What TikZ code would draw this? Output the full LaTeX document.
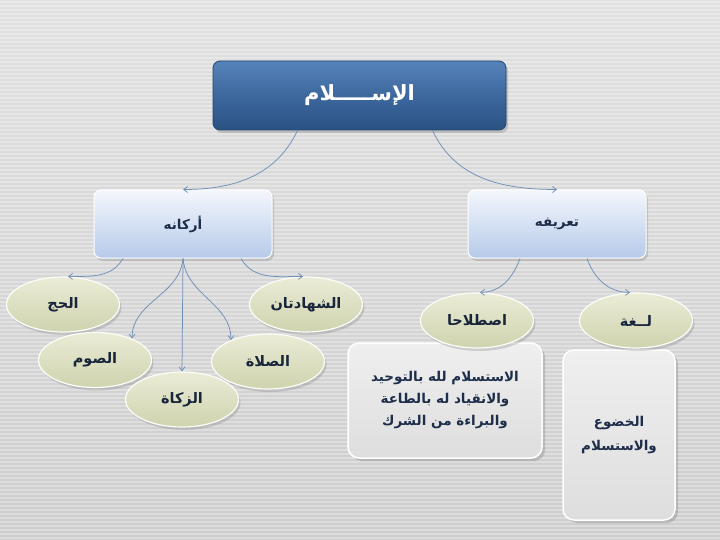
\documentclass[tikz,border=0pt]{standalone}
\usepackage{fontspec}
\newfontfamily\arabicfont[Script=Arabic]{DejaVu Sans}
\TeXXeTstate=1
\usetikzlibrary{shapes.geometric,shadows,arrows.meta}
\definecolor{bgtop}{HTML}{E0E0E0}
\definecolor{bgbot}{HTML}{CDCDCD}
\definecolor{ttop}{HTML}{5683BA}
\definecolor{tmid}{HTML}{3D689E}
\definecolor{tbot}{HTML}{2A5183}
\definecolor{tedge}{HTML}{22446E}
\definecolor{btop}{HTML}{F4F7FC}
\definecolor{bbot}{HTML}{B6CAEA}
\definecolor{etop}{HTML}{EAECD6}
\definecolor{ebot}{HTML}{CFD3AE}
\definecolor{gtop}{HTML}{EFEFEF}
\definecolor{gbot}{HTML}{DEDEDE}
\definecolor{txt}{HTML}{1E2E4A}
\definecolor{link}{HTML}{7090B8}
\begin{document}
\begin{tikzpicture}[x=1pt,y=-1pt,
  ar/.style={font=\arabicfont\bfseries},
  titlebox/.style={rounded corners=7pt, draw=tedge, line width=0.8pt,
    top color=ttop, bottom color=tbot, middle color=tmid,
    minimum width=293pt, minimum height=69pt, text=white,
    font=\arabicfont\bfseries\fontsize{21}{25}\selectfont,
    drop shadow={opacity=0.35, shadow xshift=2pt, shadow yshift=-3pt}},
  midbox/.style={rounded corners=7pt, draw=white, line width=1pt,
    top color=btop, bottom color=bbot,
    minimum width=178pt, minimum height=68pt, text=txt,
    font=\arabicfont\bfseries\fontsize{13.5}{16}\selectfont,
    drop shadow={opacity=0.3, shadow xshift=2pt, shadow yshift=-3pt}},
  oval/.style={ellipse, draw=white!85!etop, line width=1.2pt,
    top color=etop, bottom color=ebot, inner sep=0pt,
    minimum width=113pt, minimum height=55pt, text=txt!80!black,
    font=\arabicfont\bfseries\fontsize{14.5}{17}\selectfont,
    drop shadow={opacity=0.3, shadow xshift=2pt, shadow yshift=-3pt}},
  textbox/.style={rounded corners=11pt, draw=white, line width=1.5pt,
    top color=gtop, bottom color=gbot, text=txt, align=center,
    drop shadow={opacity=0.35, shadow xshift=3pt, shadow yshift=-3pt}},
  link/.style={draw=link, line width=0.75pt, -{Straight Barb[length=4pt,width=6pt]}}
]
\useasboundingbox (0,0) rectangle (720,540);
\shade[top color=bgtop, bottom color=bgbot] (0,0) rectangle (720,540);
\foreach \yy in {2,6,...,540} \draw[white, opacity=0.3, line width=1.3pt] (0,\yy) -- (720,\yy);

\node[titlebox] (top) at (359.5,95.5) {\beginR الإســـــلام\endR};

\node[midbox] (rukn) at (183,224) {\beginR أركانه\endR};
\node[midbox] (tarif) at (557,224) {\beginR تعريفه\endR};

\node[oval] (hajj) at (63,304.5) {\beginR الحج\endR};
\node[oval] (shah) at (306,304.5) {\beginR الشهادتان\endR};
\node[oval] (sawm) at (95,360) {\beginR الصوم\endR};
\node[oval] (salat) at (268,361.5) {\beginR الصلاة\endR};
\node[oval] (zakat) at (182,399.5) {\beginR الزكاة\endR};

\node[textbox, minimum width=194pt, minimum height=115pt,
  font=\arabicfont\bfseries\fontsize{13.5}{22}\selectfont] (def) at (445,400.5)
  {\beginR الاستسلام لله بالتوحيد\endR\\ \beginR والانقياد له بالطاعة\endR\\ \beginR والبراءة من الشرك\endR};
\node[textbox, minimum width=112pt, minimum height=170pt,
  font=\arabicfont\bfseries\fontsize{13.5}{24}\selectfont] (lang) at (619,435)
  {\beginR الخضوع\endR\\ \beginR والاستسلام\endR};

\node[oval] (istilah) at (477,320.5) {\beginR اصطلاحا\endR};
\node[oval] (lugha) at (636,320.5) {\beginR لــغة\endR};

\draw[link] ([xshift=-62pt]top.south) to[out=-115,in=0] (rukn.north);
\draw[link] ([xshift=73pt]top.south) to[out=-65,in=180] (tarif.north);

\draw[link] ([xshift=-60pt]rukn.south) to[out=-120,in=0] ([xshift=5pt]hajj.north);
\draw[link] ([xshift=58pt]rukn.south) to[out=-60,in=180] ([xshift=-3pt]shah.north);
\draw[link] (rukn.south) -- (zakat.north);
\draw[link] (rukn.south) to[out=-95,in=90] (sawm.30);
\draw[link] (rukn.south) to[out=-85,in=90] (salat.150);

\draw[link] ([xshift=-37pt]tarif.south) to[out=-110,in=0] ([xshift=3pt]istilah.north);
\draw[link] ([xshift=30pt]tarif.south) to[out=-70,in=180] ([xshift=-6pt]lugha.north);
\end{tikzpicture}
\end{document}
